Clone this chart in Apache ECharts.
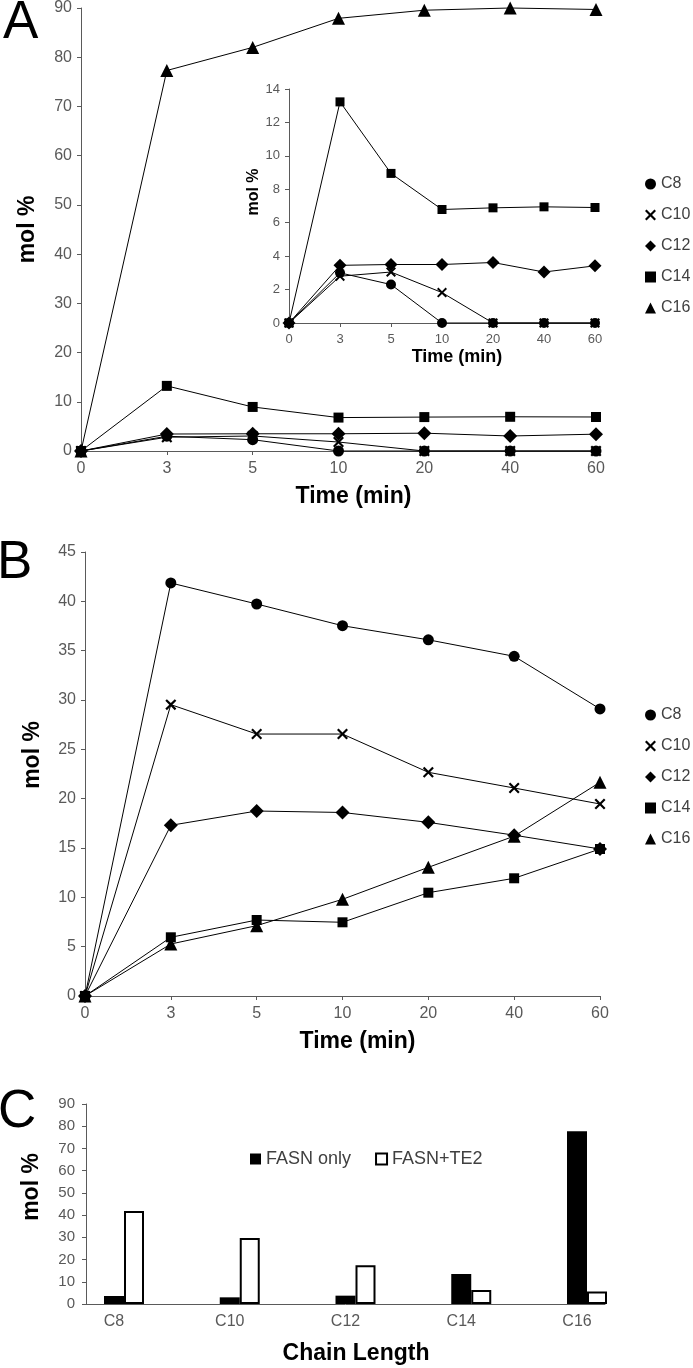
<!DOCTYPE html>
<html>
<head>
<meta charset="utf-8">
<script src="https://cdn.jsdelivr.net/npm/echarts@6/dist/echarts.min.js"></script>
<style>
html,body{margin:0;padding:0;background:#fff;}
#chart{width:693px;height:1368px;}
</style>
</head>
<body>
<div id="chart"></div>
<script>
// time points (min), shared by panels A and B
var times = ['0', '3', '5', '10', '20', '40', '60'];
var chains = ['C8', 'C10', 'C12', 'C14', 'C16'];

// A: FASN only (mol %)
var c8A  = [0, 3.0, 2.3, 0, 0, 0, 0];
var c10A = [0, 2.8, 3.05, 1.82, 0, 0, 0];
var c12A = [0, 3.45, 3.5, 3.5, 3.62, 3.05, 3.42];
var c14A = [0, 13.23, 8.95, 6.79, 6.89, 6.95, 6.91];
var c16A = [0, 77.3, 82.0, 87.9, 89.55, 90.0, 89.7];

// B: FASN + TE2 (mol %)
var c8B  = [0, 41.86, 39.73, 37.53, 36.1, 34.43, 29.1];
var c10B = [0, 29.53, 26.55, 26.55, 22.67, 21.08, 19.46];
var c12B = [0, 17.3, 18.75, 18.6, 17.6, 16.3, 14.9];
var c14B = [0, 5.95, 7.7, 7.47, 10.47, 11.93, 14.9];
var c16B = [0, 5.27, 7.13, 9.8, 13.04, 16.2, 21.66];

// C: product at 3 min
var fasnOnly = [3.6, 3.0, 3.75, 13.5, 77.7];
var fasnTe2  = [41.9, 29.7, 17.4, 6.3, 5.6];

var axisColor = '#5a5a5a';
var labelColor = '#595959';
var font = 'Liberation Sans, Arial, sans-serif';
var xMark = 'path://M0,1.4 L1.4,0 L5,3.6 L8.6,0 L10,1.4 L6.4,5 L10,8.6 L8.6,10 L5,6.4 L1.4,10 L0,8.6 L3.6,5 Z';

var symbols = {C8: 'circle', C10: xMark, C12: 'diamond', C14: 'rect', C16: 'triangle'};
// marker size tweaks per shape (diamond/triangle look smaller at same box)
var extra = {C8: 0, C10: 0, C12: 3, C14: -1, C16: 2};

function line(name, data, ax, size) {
    return {
        type: 'line', name: name, data: data,
        xAxisIndex: ax, yAxisIndex: ax,
        symbol: symbols[name], symbolSize: size + extra[name], showSymbol: true,
        clip: false, animation: false,
        lineStyle: {color: '#000', width: 1},
        itemStyle: {color: '#000'},
        emphasis: {disabled: true}
    };
}

function timeAxis(gi, fs, nameSize, nameGap) {
    return {
        type: 'category', gridIndex: gi, data: times, boundaryGap: false,
        axisLine: {lineStyle: {color: axisColor}},
        axisTick: {show: true, length: 4, lineStyle: {color: axisColor}},
        axisLabel: {color: labelColor, fontSize: fs, margin: 10, fontFamily: font},
        name: 'Time (min)', nameLocation: 'middle', nameGap: nameGap,
        nameTextStyle: {fontSize: nameSize, fontWeight: 'bold', color: '#000', fontFamily: font, padding: [0, 0, 0, 30]}
    };
}

function molAxis(gi, max, interval, fs, nameSize, nameGap, shift, margin) {
    return {
        type: 'value', gridIndex: gi, min: 0, max: max, interval: interval,
        axisLine: {show: true, lineStyle: {color: axisColor}},
        axisTick: {show: true, length: 4, lineStyle: {color: axisColor}},
        splitLine: {show: false},
        axisLabel: {color: labelColor, fontSize: fs, margin: margin, fontFamily: font},
        name: 'mol %', nameLocation: 'middle', nameRotate: 90, nameGap: nameGap,
        nameTextStyle: {fontSize: nameSize, fontWeight: 'bold', color: '#000', fontFamily: font, padding: [0, 0, 0, shift]}
    };
}

function lineLegend(top) {
    return {
        orient: 'vertical', left: 640, top: top,
        itemWidth: 11, itemHeight: 11, itemGap: 15,
        selectedMode: false,
        textStyle: {fontSize: 16, color: '#404040', fontFamily: font},
        data: chains.map(function (c) { return {name: c, icon: symbols[c]}; })
    };
}

var chart = echarts.init(document.getElementById('chart'));

var option = {
    animation: false,
    textStyle: {fontFamily: font},
    graphic: [
        {type: 'text', x: 3, y: 23, style: {text: 'A', fontSize: 53, fontFamily: font, fill: '#000', verticalAlign: 'middle'}},
        {type: 'text', x: -3, y: 563, style: {text: 'B', fontSize: 53, fontFamily: font, fill: '#000', verticalAlign: 'middle'}},
        {type: 'text', x: -2, y: 1112, style: {text: 'C', fontSize: 53, fontFamily: font, fill: '#000', verticalAlign: 'middle'}}
    ],
    legend: [
        lineLegend(171),
        lineLegend(702),
        {
            left: 245, top: 1145, itemWidth: 11, itemHeight: 11, itemGap: 24,
            selectedMode: false,
            textStyle: {fontSize: 18, color: '#404040', fontFamily: font},
            data: [
                {name: 'FASN only', icon: 'rect', itemStyle: {color: '#000'}},
                {name: 'FASN+TE2', icon: 'rect', itemStyle: {color: '#fff', borderColor: '#000', borderWidth: 2}}
            ]
        }
    ],
    grid: [
        {left: 81, top: 7, width: 515, height: 444},    // A
        {left: 289, top: 89, width: 306, height: 234},  // A inset
        {left: 85, top: 552, width: 515, height: 444},  // B
        {left: 86, top: 1104, width: 519, height: 200}, // C frame
        {left: 124, top: 1104, width: 463, height: 200} // C bars
    ],
    xAxis: [
        timeAxis(0, 16, 23, 34),
        timeAxis(1, 13, 18, 25),
        timeAxis(2, 16, 23, 34),
        {
            type: 'value', gridIndex: 3, min: 0, max: 1,
            axisLine: {show: true, lineStyle: {color: axisColor}},
            axisTick: {show: false}, axisLabel: {show: false}, splitLine: {show: false},
            name: 'Chain Length', nameLocation: 'middle', nameGap: 38,
            nameTextStyle: {fontSize: 23, fontWeight: 'bold', color: '#000', fontFamily: font, padding: [0, 0, 0, 21]}
        },
        {
            type: 'category', gridIndex: 4, data: chains, boundaryGap: false,
            axisLine: {show: false}, axisTick: {show: false},
            axisLabel: {color: labelColor, fontSize: 16, margin: 10, fontFamily: font, padding: [0, 20, 0, 0]}
        }
    ],
    yAxis: [
        molAxis(0, 90, 10, 16, 23, 42, 0, 9),
        molAxis(1, 14, 2, 13, 16, 26, 28, 9),
        molAxis(2, 45, 5, 16, 23, 41, 38, 9),
        molAxis(3, 90, 10, 15, 23, 43, 34, 11),
        {type: 'value', gridIndex: 4, min: 0, max: 90, show: false}
    ],
    series: [
        line('C8', c8A, 0, 11),
        line('C10', c10A, 0, 11),
        line('C12', c12A, 0, 11),
        line('C14', c14A, 0, 11),
        line('C16', c16A, 0, 11),

        line('C8', c8A, 1, 10),
        line('C10', c10A, 1, 10),
        line('C12', c12A, 1, 10),
        line('C14', c14A, 1, 10),

        line('C8', c8B, 2, 11),
        line('C10', c10B, 2, 11),
        line('C12', c12B, 2, 11),
        line('C14', c14B, 2, 11),
        line('C16', c16B, 2, 11),

        {
            type: 'bar', name: 'FASN only', data: fasnOnly, xAxisIndex: 4, yAxisIndex: 4,
            barWidth: 20, barGap: '0%', itemStyle: {color: '#000'}
        },
        {
            type: 'bar', name: 'FASN+TE2', data: fasnTe2, xAxisIndex: 4, yAxisIndex: 4,
            barWidth: 20, barGap: '0%', itemStyle: {color: '#fff', borderColor: '#000', borderWidth: 2}
        }
    ]
};

chart.setOption(option);
</script>
</body>
</html>
